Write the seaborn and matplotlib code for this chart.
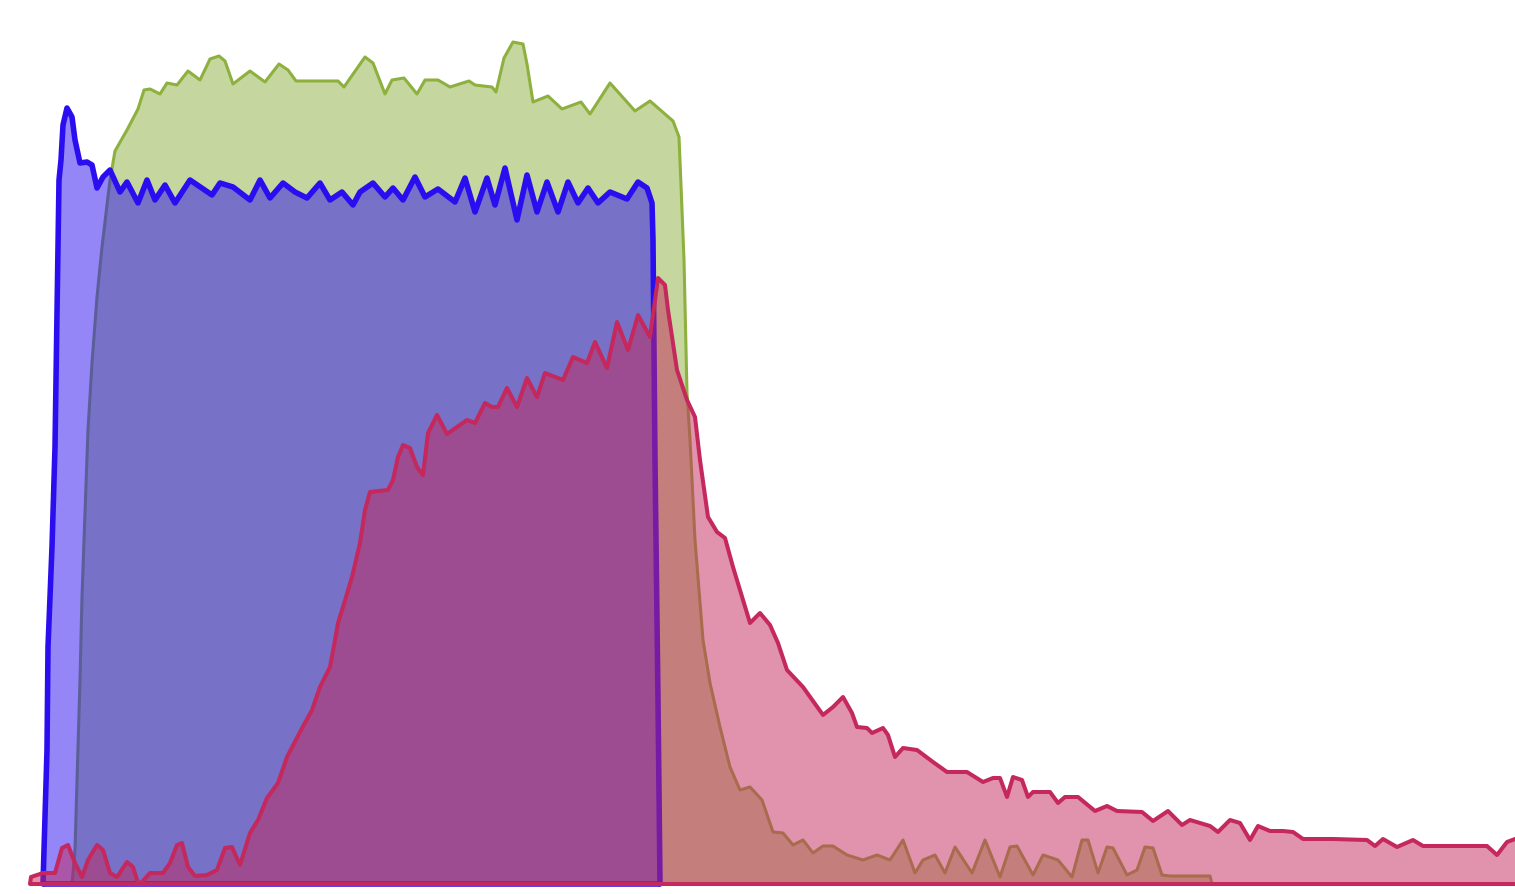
import numpy as np
import seaborn as sns
import matplotlib
matplotlib.use("Agg")
import matplotlib.pyplot as plt

# Three overlapping area series
# (x position, height above the baseline)

green_x = [72, 75, 80, 82, 85, 88, 92, 97, 102, 110, 115, 127, 138, 144, 150, 160, 167, 177,
           188, 200, 210, 219, 225, 233, 250, 265, 279, 288, 296, 315, 338, 344, 365, 373,
           385, 392, 404, 417, 425, 438, 450, 469, 475, 492, 496, 504, 513, 523, 527, 533,
           548, 562, 581, 590, 610, 635, 650, 673, 679, 681, 684, 687, 690, 695, 703, 710,
           720, 730, 740, 750, 762, 773, 783, 793, 803, 813, 823, 833, 847, 863, 877, 890,
           903, 915, 923, 935, 945, 955, 972, 985, 1000, 1010, 1017, 1033, 1043, 1058, 1072,
           1082, 1088, 1098, 1107, 1113, 1127, 1137, 1145, 1153, 1162, 1170, 1210, 1212]
green_h = [0, 34, 204, 287, 371, 454, 521, 587, 637, 704, 733, 754, 775, 794, 795, 790, 801,
           799, 813, 804, 825, 828, 823, 800, 813, 802, 820, 814, 803, 803, 803, 797, 827,
           821, 790, 804, 806, 790, 804, 804, 797, 803, 799, 797, 792, 826, 842, 840, 820,
           782, 788, 775, 782, 770, 801, 773, 783, 763, 747, 699, 624, 491, 444, 344, 244,
           201, 157, 117, 94, 97, 84, 52, 51, 39, 44, 31, 38, 38, 29, 24, 29, 24, 44, 11,
           24, 29, 11, 37, 11, 44, 7, 37, 38, 9, 29, 24, 7, 44, 44, 11, 37, 36, 9, 14, 37,
           36, 9, 8, 8, 0]

blue_x = [43, 44, 47, 48, 52, 55, 57, 59, 61, 63, 67, 72, 75, 80, 87, 92, 97, 103, 110, 120,
          127, 138, 147, 155, 165, 175, 190, 212, 220, 233, 250, 260, 270, 283, 295, 307, 320,
          330, 342, 353, 360, 373, 385, 393, 403, 415, 425, 438, 455, 465, 475, 487, 495, 505,
          517, 527, 537, 547, 558, 568, 578, 588, 598, 610, 627, 638, 647, 652, 653, 655, 658,
          660]
blue_h = [0, 34, 134, 237, 337, 437, 571, 704, 724, 759, 776, 767, 744, 721, 722, 719, 696,
          707, 714, 692, 702, 681, 704, 684, 699, 681, 704, 689, 701, 697, 684, 704, 686, 701,
          692, 686, 701, 684, 692, 679, 692, 701, 687, 696, 684, 707, 687, 695, 682, 706, 672,
          706, 679, 716, 664, 709, 672, 702, 672, 702, 681, 696, 681, 692, 685, 702, 696, 681,
          644, 424, 184, 0]

pink_x = [30, 31, 43, 55, 62, 68, 75, 82, 88, 97, 103, 110, 117, 127, 133, 137, 140, 142,
          150, 163, 170, 177, 182, 188, 195, 207, 217, 225, 232, 240, 250, 258, 267, 278,
          287, 300, 312, 320, 330, 335, 338, 343, 352, 360, 365, 370, 388, 393, 398, 403,
          410, 417, 423, 428, 437, 447, 467, 475, 485, 492, 498, 507, 517, 527, 537, 545,
          563, 573, 587, 595, 607, 617, 628, 638, 650, 658, 665, 668, 677, 687, 695, 700,
          708, 717, 725, 733, 743, 750, 760, 770, 778, 787, 803, 823, 833, 843, 852, 857,
          867, 872, 883, 888, 895, 903, 917, 933, 947, 967, 983, 993, 1000, 1007, 1013,
          1022, 1028, 1033, 1050, 1058, 1065, 1078, 1095, 1107, 1117, 1142, 1153, 1168,
          1182, 1190, 1210, 1218, 1230, 1240, 1250, 1258, 1270, 1283, 1293, 1303, 1333,
          1367, 1375, 1383, 1397, 1413, 1423, 1487, 1497, 1507, 1515]
pink_h = [0, 7, 11, 11, 36, 39, 21, 7, 24, 39, 34, 11, 7, 22, 17, 4, 0, 2, 11, 11, 21, 39,
          41, 17, 8, 9, 14, 36, 37, 19, 51, 64, 86, 101, 127, 152, 174, 197, 217, 244, 261,
          277, 307, 341, 374, 392, 394, 404, 427, 439, 436, 417, 409, 451, 469, 450, 464,
          461, 481, 477, 477, 496, 477, 506, 487, 511, 504, 527, 521, 542, 516, 562, 534,
          569, 547, 606, 599, 574, 514, 484, 467, 424, 367, 352, 346, 317, 284, 261, 271,
          259, 241, 214, 197, 169, 177, 187, 171, 157, 156, 151, 156, 149, 127, 136, 134,
          122, 112, 112, 102, 106, 106, 87, 107, 104, 87, 92, 92, 81, 87, 87, 73, 78, 73,
          72, 63, 73, 59, 64, 58, 52, 64, 61, 44, 58, 53, 53, 52, 45, 45, 44, 38, 45, 37,
          44, 38, 38, 29, 42, 45]

series = [
    ("green", green_x, green_h, "#8DB03E", 2.2),
    ("blue", blue_x, blue_h, "#2A0EF0", 4.0),
    ("pink", pink_x, pink_h, "#C4285C", 2.9),
]

fig = plt.figure(figsize=(15.15, 8.94), dpi=100)
ax = fig.add_axes([0, 0, 1, 1])

# each layer: fill, then its outline, then the next layer covers both
for i, (name, xs, hs, col, lw) in enumerate(series):
    xs = np.array(xs)
    hs = np.array(hs)
    z = 2 * i + 1
    ax.fill_between(xs, 0, hs, color=col, alpha=0.5, linewidth=0, zorder=z)
    sns.lineplot(x=xs, y=hs, ax=ax, color=col, linewidth=lw, estimator=None,
                 sort=False, solid_joinstyle="round", solid_capstyle="round",
                 zorder=z + 0.5)
    if name != "green":
        ax.hlines(0, xs[0], xs[-1], color=col, linewidth=lw, zorder=z + 0.5)

ax.set_xlim(0, 1515)
ax.set_ylim(-10, 884)
ax.axis("off")

fig.savefig("out.png", dpi=100, facecolor="white")
